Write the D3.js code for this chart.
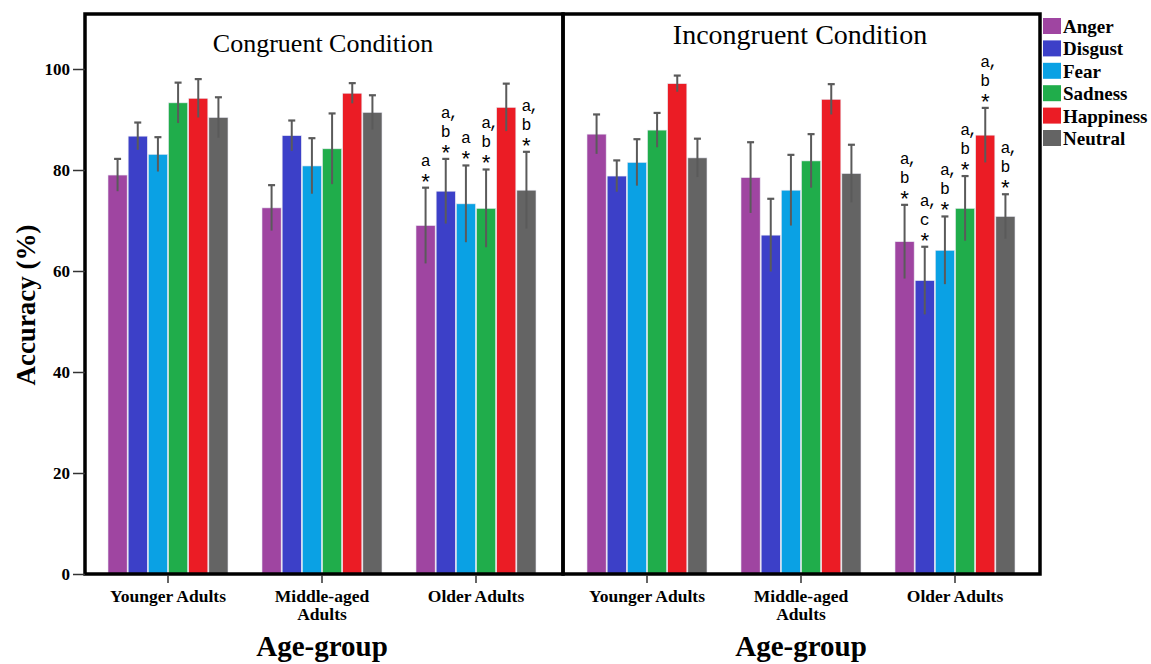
<!DOCTYPE html>
<html><head><meta charset="utf-8">
<script src="https://cdn.jsdelivr.net/npm/d3@7"></script>
<style>body{margin:0;background:#fff}svg{display:block}</style>
</head><body>
<svg id="c" width="1151" height="664"></svg>
<script>
const groups = ["Younger Adults", "Middle-aged Adults", "Older Adults"];
const emotions = ["Anger", "Disgust", "Fear", "Sadness", "Happiness", "Neutral"];
const colors = ["#9f45a1", "#3c40c8", "#0aa1e4", "#20ad4b", "#eb1c25", "#646464"];
const yTicks = [0, 20, 40, 60, 80, 100];
// values per group, per emotion
const congruentMeans = [
  [79.0, 86.7, 83.1, 93.3, 94.2, 90.4],
  [72.5, 86.8, 80.8, 84.2, 95.2, 91.4],
  [69.0, 75.8, 73.3, 72.4, 92.4, 76.0]
];
const congruentErr = [
  [3.2, 2.7, 3.4, 4.0, 3.8, 4.0],
  [4.5, 3.0, 5.5, 7.0, 2.0, 3.4],
  [7.5, 6.4, 7.6, 7.7, 4.7, 7.6]
];
const incongruentMeans = [
  [87.1, 78.8, 81.5, 87.9, 97.1, 82.4],
  [78.5, 67.1, 76.0, 81.8, 94.0, 79.3],
  [65.8, 58.1, 64.1, 72.4, 86.9, 70.8]
];
const incongruentErr = [
  [3.9, 3.1, 4.6, 3.4, 1.6, 3.8],
  [7.0, 7.2, 7.0, 5.3, 3.0, 5.7],
  [7.3, 6.7, 6.7, 6.4, 5.4, 4.4]
];
// significance annotations for Older Adults (lines from top to bottom)
const congruentNotes = [["a","*"], ["a,","b","*"], ["a","*"], ["a,","b","*"], [], ["a,","b","*"]];
const incongruentNotes = [["a,","b","*"], ["a,","c","*"], ["a,","b","*"], ["a,","b","*"], ["a,","b","*"], ["a,","b","*"]];

const svg = d3.select("#c");
const serif = "'Liberation Serif','DejaVu Serif',serif";
const mono = "'Liberation Mono','DejaVu Sans Mono',monospace";
const y = d3.scaleLinear().domain([0, 100]).range([574, 69]);
const yTop = 14;

const panels = [
  {title: "Congruent Condition", means: congruentMeans, err: congruentErr, notes: congruentNotes,
   left: 85, right: 563, range: [91, 553], titleY: 52, titleSize: 26, titleX: 323},
  {title: "Incongruent Condition", means: incongruentMeans, err: incongruentErr, notes: incongruentNotes,
   left: 563, right: 1040, range: [570, 1032], titleY: 44, titleSize: 28, titleX: 800}
];

const x1 = d3.scaleBand().domain(emotions).range([-60, 60]).paddingInner(0.05);

panels.forEach((p, pi) => {
  const x0 = d3.scaleBand().domain(groups).range(p.range);
  const g = svg.append("g");
  groups.forEach((grp, gi) => {
    const cx = x0(grp) + x0.bandwidth() / 2;
    emotions.forEach((em, ei) => {
      const v = p.means[gi][ei], e = p.err[gi][ei];
      const bx = cx + x1(em);
      g.append("rect").attr("x", bx).attr("y", y(v)).attr("width", x1.bandwidth())
        .attr("height", y(0) - y(v)).attr("fill", colors[ei])
        .attr("stroke", "#e8e8f0").attr("stroke-width", 0.6);
      const mx = bx + x1.bandwidth() / 2;
      const top = y(v + e);
      g.append("line").attr("x1", mx).attr("x2", mx).attr("y1", y(v - e)).attr("y2", top)
        .attr("stroke", "#5a5a5a").attr("stroke-width", 2);
      g.append("line").attr("x1", mx - 3.5).attr("x2", mx + 3.5).attr("y1", top).attr("y2", top)
        .attr("stroke", "#5a5a5a").attr("stroke-width", 2.2);
      if (gi === 2 && p.notes[ei].length) {
        const lines = p.notes[ei];
        const n = lines.length;
        const txt = g.append("text").attr("font-family", mono).attr("fill", "#000");
        lines.forEach((t, li) => {
          const k = n - 1 - li;
          const isStar = t === "*";
          const base = k === 0 ? top + 2 : top - 22 - 19 * (k - 1);
          const fs = isStar ? 22 : 16.5;
          txt.append("tspan").attr("x", mx - fs * 0.3).attr("y", base)
            .attr("font-size", fs).attr("letter-spacing", t.length > 1 ? -2 : 0).text(t);
        });
      }
    });
  });
  g.append("rect").attr("x", p.left).attr("y", yTop).attr("width", p.right - p.left)
    .attr("height", y(0) - yTop).attr("fill", "none").attr("stroke", "#000").attr("stroke-width", 3.5);
  groups.forEach(grp => {
    const cx = x0(grp) + x0.bandwidth() / 2;
    g.append("line").attr("x1", cx).attr("x2", cx).attr("y1", 575).attr("y2", 583)
      .attr("stroke", "#333").attr("stroke-width", 1.5);
    const parts = grp === "Middle-aged Adults" ? ["Middle-aged", "Adults"] : [grp];
    const t = g.append("text").attr("text-anchor", "middle").attr("font-family", serif)
      .attr("font-weight", "bold").attr("font-size", 17.5);
    parts.forEach((s, i) => {
      t.append("tspan").attr("x", cx).attr("y", 602 + i * 18).text(s);
    });
  });
  g.append("text").attr("x", p.titleX).attr("y", p.titleY)
    .attr("text-anchor", "middle").attr("font-family", serif).attr("font-size", p.titleSize).text(p.title);
  g.append("text").attr("x", x0(groups[1]) + x0.bandwidth() / 2).attr("y", 656)
    .attr("text-anchor", "middle").attr("font-family", serif).attr("font-weight", "bold")
    .attr("font-size", 29).text("Age-group");
});

const yAxis = svg.append("g").attr("transform", "translate(85,0)")
  .call(d3.axisLeft(y).tickValues(yTicks).tickSize(12).tickPadding(3));
yAxis.select(".domain").remove();
yAxis.selectAll(".tick line").attr("stroke", "#333").attr("stroke-width", 1.5);
yAxis.selectAll(".tick text").attr("font-family", serif).attr("font-weight", "bold")
  .attr("font-size", 17).attr("fill", "#000");

svg.append("text").attr("transform", "translate(35,305) rotate(-90)").attr("text-anchor", "middle")
  .attr("font-family", serif).attr("font-weight", "bold").attr("font-size", 27).text("Accuracy (%)");

const leg = svg.append("g");
emotions.forEach((em, i) => {
  const yy = 18 + i * 22.4;
  leg.append("rect").attr("x", 1043).attr("y", yy).attr("width", 18).attr("height", 16).attr("fill", colors[i]);
  leg.append("text").attr("x", 1063).attr("y", yy + 15).attr("font-family", serif)
    .attr("font-weight", "bold").attr("font-size", 19).text(em);
});
</script>
</body></html>
